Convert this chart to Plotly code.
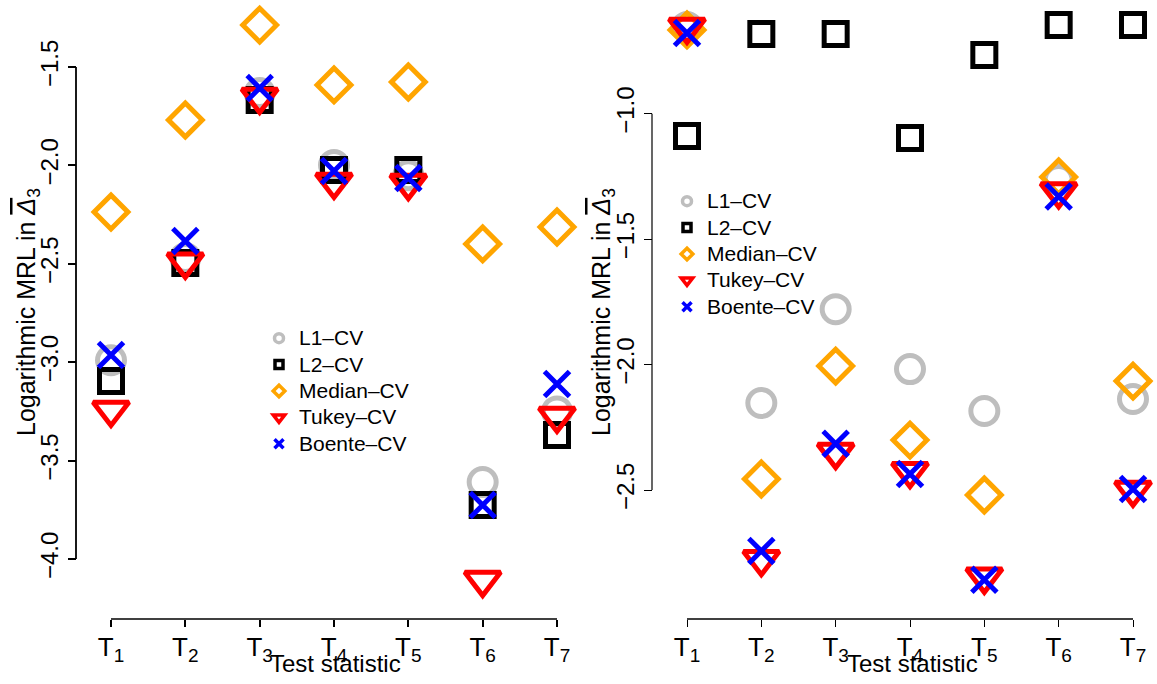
import plotly.graph_objects as go

W, H = 1157, 684
FONT = "Liberation Sans, Arial, Helvetica, sans-serif"

# ---------------- data ----------------
stat_idx = [1, 2, 3, 4, 5, 6, 7]
stat_labels = ["T<sub><span style='font-size:19px'>%d</span></sub>" % i for i in stat_idx]
methods = ["L1\u2013CV", "L2\u2013CV", "Median\u2013CV", "Tukey\u2013CV", "Boente\u2013CV"]

left_L1 = [-2.99, -2.47, -1.632, -1.998, -2.05, -3.609, -3.25]
left_L2 = [-3.096, -2.496, -1.668, -2.023, -2.023, -3.726, -3.37]
left_Median = [-2.237, -1.769, -1.287, -1.591, -1.576, -2.399, -2.313]
left_Tukey = [-3.243, -2.49, -1.652, -2.084, -2.09, -4.107, -3.273]
left_Boente = [-2.963, -2.384, -1.607, -2.028, -2.064, -3.726, -3.111]

right_L1 = [-0.654, -2.153, -1.779, -2.018, -2.185, -1.264, -2.137]
right_L2 = [-1.089, -0.682, -0.682, -1.097, -0.766, -0.646, -0.646]
right_Median = [-0.666, -2.456, -2.006, -2.301, -2.52, -1.252, -2.066]
right_Tukey = [-0.654, -2.776, -2.349, -2.425, -2.846, -1.31, -2.50]
right_Boente = [-0.678, -2.743, -2.316, -2.436, -2.858, -1.33, -2.496]

left_yticks = [-1.5, -2.0, -2.5, -3.0, -3.5, -4.0]
right_yticks = [-1.0, -1.5, -2.0, -2.5]

# ---------------- styles ----------------
colors = ["#BEBEBE", "#000000", "#FFA500", "#FF0000", "#0000FF"]
symbols = ["circle-open", "square-open", "diamond-open", "triangle-down-open", "x-thin-open"]
sizes = [27, 23, 26, 31, 25]
leg_sizes = [9, 8, 9, 10, 9]

fig = go.Figure()

panels = [
    ("x", "y", "legend", [left_L1, left_L2, left_Median, left_Tukey, left_Boente]),
    ("x2", "y2", "legend2", [right_L1, right_L2, right_Median, right_Tukey, right_Boente]),
]
for xa, ya, lg, series in panels:
    for name, vals, c, s, sz in zip(methods, series, colors, symbols, sizes):
        fig.add_trace(go.Scatter(
            x=stat_idx, y=vals, mode="markers", name=name, xaxis=xa, yaxis=ya,
            showlegend=False, cliponaxis=False,
            marker=dict(symbol=s, size=sz, color=c, line=dict(color=c, width=5)),
        ))
    for name, c, s, lsz in zip(methods, colors, symbols, leg_sizes):
        fig.add_trace(go.Scatter(
            x=[None], y=[None], mode="markers",
            name="<span style='font-size:21px'>%s</span>" % name,
            xaxis=xa, yaxis=ya, showlegend=True, legend=lg,
            marker=dict(symbol=s, size=lsz, color=c, line=dict(color=c, width=3.5)),
        ))

# ---------------- layout geometry (pixels) ----------------
def px_x(p):
    return p / W

def px_y(p):
    return (H - p) / H

def xrange_for(dom_lo, dom_hi, p1, p7):
    sc = (p7 - p1) / 6.0
    return [1 - (p1 - dom_lo) / sc, 7 + (dom_hi - p7) / sc]

def yrange_for(top_px, bot_px, ptop, vtop, pbot, vbot):
    sc = (pbot - ptop) / (vtop - vbot)
    return [vbot - (bot_px - pbot) / sc, vtop + (ptop - top_px) / sc]

PT, PB = 0, 612
LX0, LX1, RX0, RX1 = 82, 600, 640, 1157
L_T1, L_T7, R_T1, R_T7 = 111, 557, 687, 1133
XAX_Y = 619
L_YAX, R_YAX = 76, 652

axis_common = dict(showgrid=False, zeroline=False, showline=False, ticks="outside",
                   tickcolor="black")
xfont = dict(family=FONT, size=26, color="black")
yfont = dict(family=FONT, size=24, color="black")

fig.update_layout(
    width=W, height=H, margin=dict(l=0, r=0, t=0, b=0),
    paper_bgcolor="white", plot_bgcolor="white",
    font=dict(family=FONT, color="black"),
    xaxis=dict(domain=[px_x(LX0), px_x(LX1)], range=xrange_for(LX0, LX1, L_T1, L_T7),
               tickvals=stat_idx, ticktext=stat_labels, anchor="free", position=px_y(XAX_Y),
               ticklen=7, tickwidth=1.6, tickfont=xfont, ticklabelstandoff=-2, **axis_common),
    xaxis2=dict(domain=[px_x(RX0), px_x(RX1)], range=xrange_for(RX0, RX1, R_T1, R_T7),
                tickvals=stat_idx, ticktext=stat_labels, anchor="free", position=px_y(XAX_Y),
                ticklen=7, tickwidth=1.4, tickfont=xfont, ticklabelstandoff=-2, **axis_common),
    yaxis=dict(domain=[px_y(PB), px_y(PT)],
               range=yrange_for(PT, PB, 67, -1.5, 559, -4.0),
               tickvals=left_yticks, ticktext=["\u22121.5", "\u22122.0", "\u22122.5", "\u22123.0", "\u22123.5", "\u22124.0"],
               tickangle=-90, anchor="free", position=px_x(L_YAX),
               ticklen=8, tickwidth=1.8, tickfont=yfont, **axis_common),
    yaxis2=dict(domain=[px_y(PB), px_y(PT)],
                range=yrange_for(PT, PB, 113.7, -1.0, 490, -2.5),
                tickvals=right_yticks, ticktext=["\u22121.0", "\u22121.5", "\u22122.0", "\u22122.5"],
                tickangle=-90, anchor="free", position=px_x(R_YAX),
                ticklen=8, tickwidth=1.2, tickfont=yfont, **axis_common),
    legend=dict(x=px_x(259), y=px_y(391), xanchor="left", yanchor="middle",
                bgcolor="rgba(0,0,0,0)", font=dict(family=FONT, size=18, color="black"),
                itemsizing="trace"),
    legend2=dict(x=px_x(667), y=px_y(254), xanchor="left", yanchor="middle",
                 bgcolor="rgba(0,0,0,0)", font=dict(family=FONT, size=18, color="black"),
                 itemsizing="trace"),
)

# axis lines (R style: span first to last tick only)
fig.add_shape(type="line", xref="x", yref="paper", x0=1, x1=7, y0=px_y(XAX_Y), y1=px_y(XAX_Y),
              line=dict(color="black", width=1.6))
fig.add_shape(type="line", xref="x2", yref="paper", x0=1, x1=7, y0=px_y(XAX_Y), y1=px_y(XAX_Y),
              line=dict(color="black", width=1.4))
fig.add_shape(type="line", xref="paper", yref="y", x0=px_x(L_YAX), x1=px_x(L_YAX),
              y0=left_yticks[0], y1=left_yticks[-1], line=dict(color="black", width=1.8))
fig.add_shape(type="line", xref="paper", yref="y2", x0=px_x(R_YAX), x1=px_x(R_YAX),
              y0=right_yticks[0], y1=right_yticks[-1], line=dict(color="black", width=1.2))

ytitle = ("Logarithmic MRL in "
          "<span style='text-decoration:overline'><i>\u0394</i></span><sub>3</sub>")
for xp in (28, 603):
    fig.add_annotation(text=ytitle, x=px_x(xp), y=px_y(312), xref="paper", yref="paper",
                       textangle=-90, showarrow=False, xanchor="center", yanchor="middle",
                       font=dict(family=FONT, size=25, color="black"))
for xp in (335, 912):
    fig.add_annotation(text="Test statistic", x=px_x(xp), y=px_y(663), xref="paper", yref="paper",
                       showarrow=False, xanchor="center", yanchor="middle",
                       font=dict(family=FONT, size=24, color="black"))

fig.write_html("out.html")
